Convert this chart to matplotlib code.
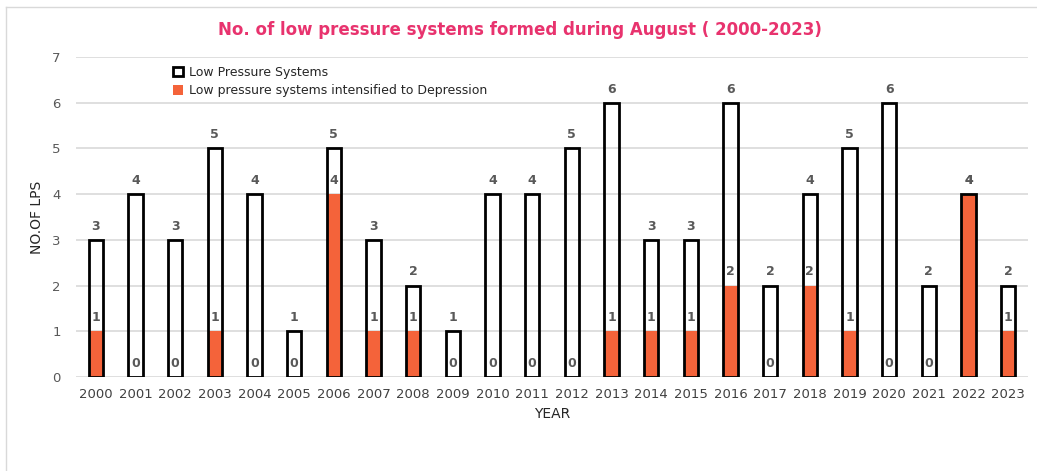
import matplotlib
matplotlib.use("Agg")
import matplotlib.pyplot as plt
from matplotlib.lines import Line2D

years = [str(y) for y in range(2000, 2024)]
lps = [3, 4, 3, 5, 4, 1, 5, 3, 2, 1, 4, 4, 5, 6, 3, 3, 6, 2, 4, 5, 6, 2, 4, 2]
depression = [1, 0, 0, 1, 0, 0, 4, 1, 1, 0, 0, 0, 0, 1, 1, 1, 2, 0, 2, 1, 0, 0, 4, 1]

orange = "#F4633A"
label_color = "#595959"

fig = plt.figure(figsize=(10.37, 4.71), dpi=100)
ax = fig.add_axes([76/1037, 1 - 377/471, 952/1037, 320/471])

x = list(range(len(years)))
w = 0.36
ax.bar(x, depression, width=w, color=orange, zorder=2,
       label="Low pressure systems intensified to Depression")
ax.bar(x, lps, width=w, facecolor="none", edgecolor="black", linewidth=2, zorder=3,
       label="Low Pressure Systems")

for xi, v in zip(x, lps):
    ax.text(xi, v + 0.3, str(v), ha="center", va="center", fontsize=9,
            fontweight="bold", color=label_color, zorder=4)
for xi, v in zip(x, depression):
    ax.text(xi, v + 0.3, str(v), ha="center", va="center", fontsize=9,
            fontweight="bold", color=label_color, zorder=4)

ax.set_xlim(-0.5, len(years) - 0.5)
ax.set_ylim(0, 7)
ax.set_yticks(range(0, 8))
ax.set_xticks(x)
ax.set_xticklabels(years)
ax.tick_params(axis="x", length=0, labelsize=9.5, colors="#404040", pad=8)
ax.tick_params(axis="y", length=0, labelsize=9.5, colors="#595959", pad=11)
ax.yaxis.grid(True, color="#D9D9D9", linewidth=1.2, zorder=0)
ax.set_axisbelow(True)
for s in ax.spines.values():
    s.set_visible(False)

ax.set_ylabel("NO.OF LPS", fontsize=10, color="#262626", labelpad=6)
ax.set_xlabel("YEAR", fontsize=10, color="#262626", labelpad=4)

handles, labels = ax.get_legend_handles_labels()
leg = ax.legend(handles[::-1], labels[::-1], loc="upper left",
                bbox_to_anchor=(0.09, 1.008), frameon=False, fontsize=9,
                handlelength=0.8, handleheight=0.8, handletextpad=0.5,
                labelspacing=0.45, labelcolor="#262626")

fig.text(520/1037, 1 - 30/471, "No. of low pressure systems formed during August ( 2000-2023)",
         ha="center", va="center", fontsize=12, fontweight="bold", color="#E8336E")

fig.lines.append(Line2D([6/1037, 1], [1 - 7/471, 1 - 7/471], transform=fig.transFigure,
                        color="#D9D9D9", linewidth=1))
fig.lines.append(Line2D([6/1037, 6/1037], [0, 1 - 7/471], transform=fig.transFigure,
                        color="#D9D9D9", linewidth=1))

fig.savefig("out.png", dpi=100)
